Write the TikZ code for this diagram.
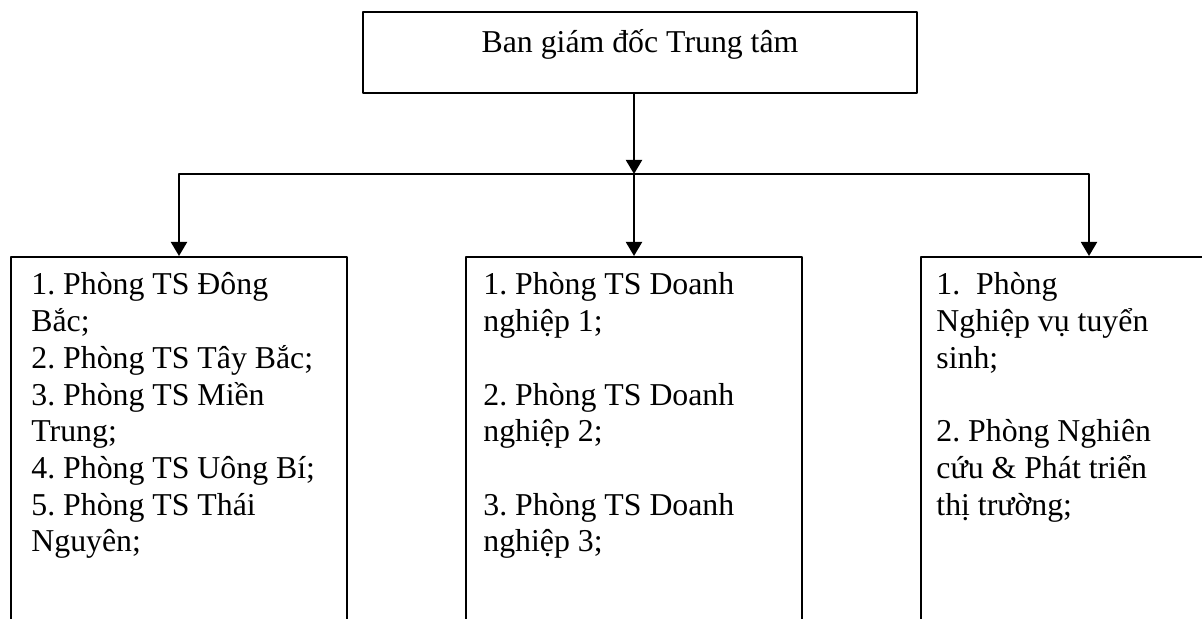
\documentclass[tikz,border=0pt]{standalone}
\usepackage{fontspec}
\setmainfont{Liberation Serif}
\usetikzlibrary{arrows.meta,positioning}
\frenchspacing

\begin{document}
\begin{tikzpicture}[x=0.5pt, y=-0.5pt, line join=round, >={Triangle[length=7pt,width=8pt]},
	khung/.style={draw, line width=1pt, inner sep=0pt},
	phong/.style={khung, anchor=north, minimum width=168pt, minimum height=200pt},
	chu/.style={anchor=base west, align=flush left, inner sep=0pt, text width=155pt},
	font=\fontsize{15.9pt}{18.35pt}\selectfont]
	\useasboundingbox (0,0) rectangle (1202,619);
	\clip (0,0) rectangle (1202,619);
	% Ban giam doc
	\node[khung, minimum width=277pt, text height=20.5pt, text depth=20pt] (bgd) at (640,52.5) {Ban giám đốc Trung tâm};
	% cac phong
	\node[phong] (p1) at (179,256) {};
	\node[phong, right=58.5pt of p1] (p2) {};
	\node[phong, right=58.5pt of p2] (p3) {};
	\node[chu] (t1) at (31,295) {1. Phòng TS Đông\\ Bắc;\\ 2. Phòng TS Tây Bắc;\\ 3. Phòng TS Miền\\ Trung;\\ 4. Phòng TS Uông Bí;\\ 5. Phòng TS Thái\\ Nguyên;};
	\node[chu] (t2) at (483,295) {1. Phòng TS Doanh\\ nghiệp 1;\\[18.35pt] 2. Phòng TS Doanh\\ nghiệp 2;\\[18.35pt] 3. Phòng TS Doanh\\ nghiệp 3;};
	\node[chu] (t3) at (936,295) {1.\ \ Phòng\\ Nghiệp vụ tuyển\\ sinh;\\[18.35pt] 2. Phòng Nghiên\\ cứu \& Phát triển\\ thị trường;};
	% mui ten
	\coordinate (nut) at (p2.north |- 0,174);
	\draw[->, line width=1pt] (bgd.south -| p2.north) -- (nut);
	\foreach \p in {p1,p2,p3}
		\draw[->, line width=1pt] (nut) -| (\p.north);
\end{tikzpicture}
\end{document}
